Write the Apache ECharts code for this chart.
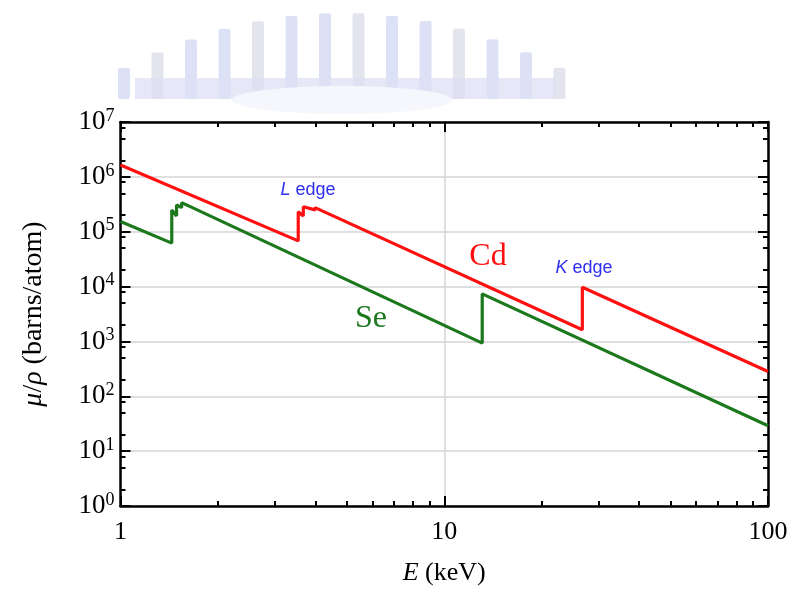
<!DOCTYPE html>
<html>
<head>
<meta charset="utf-8">
<script src="https://cdn.jsdelivr.net/npm/echarts@6/dist/echarts.min.js"></script>
<style>
html, body { margin: 0; padding: 0; background: #fff; }
#chart { width: 794px; height: 596px; }
</style>
</head>
<body>
<div id="chart"></div>
<script>
// Cd: photo-absorption cross section (E in keV, barns/atom)
const energyCd = [1, 3.54, 3.54, 3.67, 3.67, 3.99, 3.99, 26.7, 26.7, 100]
const muCd = [1.65e6, 6.8e4, 2.32e5, 1.94e5, 2.86e5, 2.5e5, 2.75e5, 1.63e3, 9.75e3, 283]

// Se
const energySe = [1, 1.44, 1.44, 1.49, 1.49, 1.545, 1.545, 13.1, 13.1, 100]
const muSe = [1.53e5, 6.2e4, 2.5e5, 1.94e5, 3.08e5, 2.75e5, 3.39e5, 930, 7360, 29]

// axis ticks
const xMinorTicks = [2, 3, 4, 5, 6, 7, 8, 9, 20, 30, 40, 50, 60, 70, 80, 90]
const yMinorTicks = [2, 5, 8, 20, 50, 80, 200, 500, 800, 2e3, 5e3, 8e3, 2e4, 5e4, 8e4, 2e5, 5e5, 8e5, 2e6, 5e6, 8e6]

const serif = '"Liberation Serif", "DejaVu Serif", serif'
const sans = '"Liberation Sans", Arial, sans-serif'

const chart = echarts.init(document.getElementById('chart'))

const black = { color: '#000', width: 2 }
const noLabel = { show: false }

const xMajor = (pos, withLabel) => ({
  type: 'log', logBase: 10, min: 1, max: 100, interval: 1, position: pos,
  axisLine: { show: true, onZero: false, lineStyle: { color: '#000', width: 2.5 } },
  axisTick: { show: true, inside: true, length: 10, lineStyle: black },
  axisLabel: withLabel ? {
    show: true, margin: 13, color: '#000', fontFamily: serif, fontSize: 26,
    formatter: v => String(Math.round(v))
  } : noLabel,
  splitLine: { show: withLabel, lineStyle: { color: '#d4d4d4', width: 1.5 } }
})
const xMinor = pos => ({
  type: 'log', logBase: 10, min: 1, max: 100, position: pos,
  axisLine: { show: false },
  axisTick: { show: true, inside: true, length: 5, customValues: xMinorTicks, lineStyle: black },
  axisLabel: noLabel, splitLine: { show: false }
})
const yMajor = (pos, withLabel) => ({
  type: 'log', logBase: 10, min: 1, max: 1e7, interval: 1, position: pos,
  axisLine: { show: true, onZero: false, lineStyle: { color: '#000', width: 2.5 } },
  axisTick: { show: true, inside: true, length: 10, lineStyle: black },
  axisLabel: withLabel ? {
    show: true, margin: 6, color: '#000',
    formatter: v => '{b|10}{s|' + Math.round(Math.log10(v)) + '}',
    rich: {
      b: { fontFamily: serif, fontSize: 27, color: '#000' },
      s: { fontFamily: serif, fontSize: 18, color: '#000', padding: [0, 0, 12, 0] }
    }
  } : noLabel,
  splitLine: { show: withLabel, lineStyle: { color: '#d4d4d4', width: 1.5 } }
})
const yMinor = pos => ({
  type: 'log', logBase: 10, min: 1, max: 1e7, position: pos,
  axisLine: { show: false },
  axisTick: { show: true, inside: true, length: 5, customValues: yMinorTicks, lineStyle: black },
  axisLabel: noLabel, splitLine: { show: false }
})

// faded watermark above the plot
const watermark = []
for (let i = 0; i < 14; i++) {
  const x = 118 + i * 33.5
  const t = (x + 6 - 342) / 235
  const top = 13 + 64 * t * t
  watermark.push({
    type: 'rect',
    shape: { x: x, y: top, width: 12, height: 99 - top, r: 2 },
    style: { fill: i % 3 === 1 ? '#dcdde8' : '#d5daf3', opacity: 0.8 },
    silent: true
  })
}
watermark.push({
  type: 'rect', shape: { x: 135, y: 78, width: 420, height: 21 },
  style: { fill: '#dde0f4', opacity: 0.75 }, silent: true
})
watermark.push({
  type: 'ellipse', shape: { cx: 342, cy: 100, rx: 110, ry: 14 },
  style: { fill: '#f6f7fc' }, silent: true
})

chart.setOption({
  backgroundColor: '#fff',
  animation: false,
  grid: { left: 120.5, top: 122, width: 647.5, height: 384 },
  xAxis: [
    Object.assign(xMajor('bottom', true), {
      name: '{i|E} (keV)', nameLocation: 'middle', nameGap: 54,
      nameTextStyle: {
        fontFamily: serif, fontSize: 26, color: '#000',
        rich: { i: { fontFamily: serif, fontStyle: 'italic', fontSize: 26, color: '#000' } }
      }
    }),
    xMinor('bottom'),
    xMajor('top', false),
    xMinor('top')
  ],
  yAxis: [
    Object.assign(yMajor('left', true), {
      name: '{i|μ}/{i|ρ} (barns/atom)', nameLocation: 'middle', nameGap: 73, nameRotate: 90,
      nameTextStyle: {
        fontFamily: serif, fontSize: 28, color: '#000',
        rich: { i: { fontFamily: serif, fontStyle: 'italic', fontSize: 28, color: '#000' } }
      }
    }),
    yMinor('left'),
    yMajor('right', false),
    yMinor('right')
  ],
  series: [
    {
      name: 'Cd', type: 'line', xAxisIndex: 0, yAxisIndex: 0,
      data: energyCd.map((e, i) => [e, muCd[i]]),
      showSymbol: false, clip: true,
      lineStyle: { color: '#ff1010', width: 3.2 }, z: 3
    },
    {
      name: 'Se', type: 'line', xAxisIndex: 0, yAxisIndex: 0,
      data: energySe.map((e, i) => [e, muSe[i]]),
      showSymbol: false, clip: true,
      lineStyle: { color: '#1c781c', width: 3.2 }, z: 2
    }
  ],
  graphic: watermark.concat([
    {
      type: 'text', x: 308, y: 190,
      style: {
        text: '{i|L} edge', fill: '#2f2ff0', font: '18px ' + sans,
        align: 'center', verticalAlign: 'middle',
        rich: { i: { fontStyle: 'italic', fontFamily: sans, fontSize: 18, fill: '#2f2ff0' } }
      }
    },
    {
      type: 'text', x: 584, y: 268,
      style: {
        text: '{i|K} edge', fill: '#2f2ff0', font: '18px ' + sans,
        align: 'center', verticalAlign: 'middle',
        rich: { i: { fontStyle: 'italic', fontFamily: sans, fontSize: 18, fill: '#2f2ff0' } }
      }
    },
    {
      type: 'text', x: 488, y: 257,
      style: { text: 'Cd', fill: '#ff1010', font: '32px ' + serif, align: 'center', verticalAlign: 'middle' }
    },
    {
      type: 'text', x: 371, y: 319,
      style: { text: 'Se', fill: '#1c781c', font: '32px ' + serif, align: 'center', verticalAlign: 'middle' }
    }
  ])
})
</script>
</body>
</html>
